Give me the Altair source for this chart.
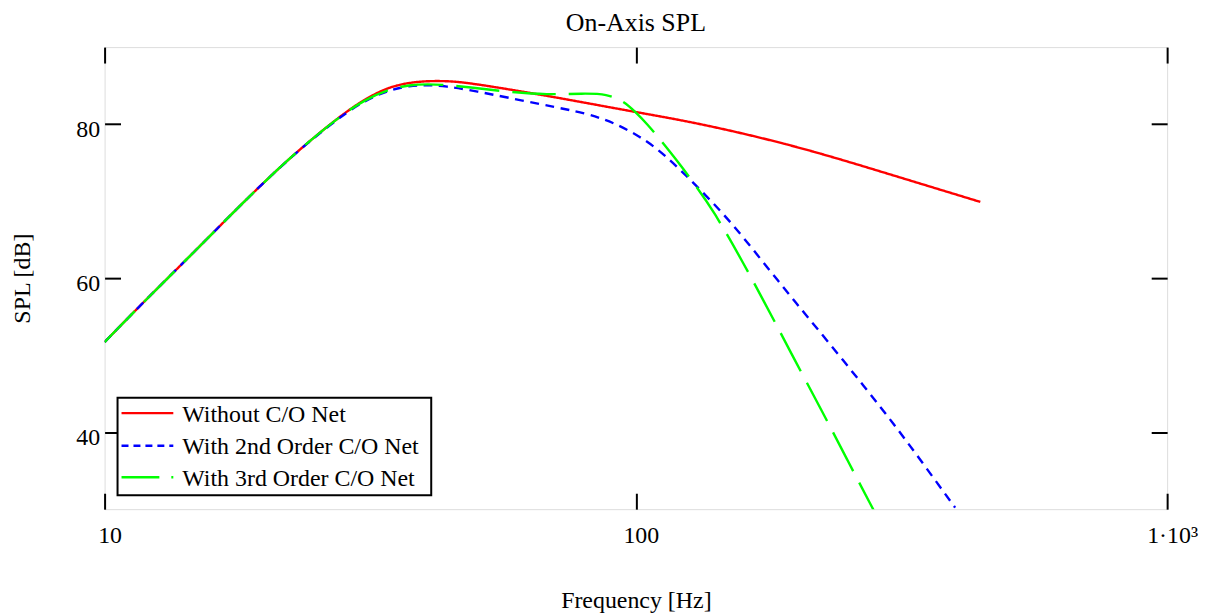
import altair as alt
import pandas as pd

# ---------------- data ----------------
series_names = ["Without C/O Net", "With 2nd Order C/O Net", "With 3rd Order C/O Net"]
series_colors = ["#ff0000", "#0000ff", "#00ff00"]
series_dashes = [[1, 0], [9, 6.5], [43.5, 13]]
legend_dashes = [[1, 0], [7, 5], [38, 12, 2, 100]]

red_freq = [10, 11.8, 14.7, 18.2, 22.5, 27.9, 31, 34.2, 37.5, 40.6, 44, 48.3,
            68.1, 99, 130, 200, 300, 445]
red_spl = [51.7, 56.8, 63.3, 69.8, 75.9, 81.2, 83.3, 84.8, 85.4, 85.6, 85.6, 85.4,
           83.7, 81.6, 80.2, 77.2, 73.5, 69.9]

blue_freq = [10, 11.8, 14.7, 18.2, 22.5, 27.9, 31, 34.2, 37.5, 40.6, 44, 48.3,
             68.1, 80.9, 90.8, 101.9, 112.7, 130.1, 150.2, 173,
             200, 231, 270, 308, 350, 399]
blue_spl = [51.7, 56.8, 63.3, 69.8, 75.9, 81.1, 83.1, 84.4, 85.0, 85.1, 84.9, 84.5,
            82.4, 81.4, 80.2, 78.4, 76.2, 72.0, 67.5, 62.2,
            56.8, 51.6, 45.8, 40.8, 35.6, 30.2]

green_freq = [10, 11.8, 14.7, 18.2, 22.5, 27.9, 31, 34.2, 37.5, 40.6, 44, 48.3,
              57.3, 68.1, 79.8, 88.3, 94.8, 99.7, 104.8, 112, 119.4, 130,
              139.8, 158.5, 183.7, 200, 223.1, 250, 280.6]
green_spl = [51.7, 56.8, 63.3, 69.8, 75.9, 81.2, 83.2, 84.5, 85.1, 85.2, 85.1, 84.8,
             84.2, 83.8, 84.0, 83.9, 83.0, 81.6, 80.1, 77.7, 75.3, 71.9,
             68.8, 62.3, 54.0, 49.1, 43.0, 36.4, 29.8]

x_ticks = [10, 100, 1000]
y_ticks = [40, 60, 80]

# ---------------- chart ----------------
FONT = "Liberation Serif"
FS = 24
W, H = 1067, 464

all_freq = [red_freq, blue_freq, green_freq]
all_spl = [red_spl, blue_spl, green_spl]

x_scale = alt.Scale(type="log", domain=[10, 1000], nice=False)
y_scale = alt.Scale(domain=[30, 90], nice=False, zero=False)

common_axis = dict(grid=False, domain=False, tickColor="black", tickWidth=2,
                   labelFont=FONT, labelFontSize=FS, labelColor="black",
                   titleFont=FONT, titleFontSize=FS, titleColor="black",
                   titleFontWeight="normal", offset=-16, tickSize=16)

x_bottom = alt.Axis(orient="bottom", values=x_ticks, labelFlush=False,
                    labelPadding=14, labelOffset=5, labelOverlap=False,
                    labelExpr="datum.value >= 1000 ? '1·10³' : format(datum.value, 'd')",
                    title="Frequency [Hz]", titlePadding=42, **common_axis)
y_left = alt.Axis(orient="left", values=y_ticks, labelPadding=5, labelOffset=5,
                  title="SPL [dB]", titlePadding=41, **common_axis)
x_top = alt.Axis(orient="top", values=x_ticks, labels=False, title=None, **common_axis)
y_right = alt.Axis(orient="right", values=y_ticks, labels=False, title=None, **common_axis)

layers = []
for i, (name, fs, ss, col, dash) in enumerate(zip(series_names, all_freq, all_spl,
                                                     series_colors, series_dashes)):
    d = pd.DataFrame({"freq": fs, "spl": ss, "series": name})
    if i == 0:
        xa, ya = x_bottom, y_left
    else:
        xa, ya = None, None
    layers.append(
        alt.Chart(d).mark_line(color=col, strokeWidth=2.4, strokeDash=dash,
                               interpolate="basis", clip=True).encode(
            x=alt.X("freq:Q", scale=x_scale, axis=xa),
            y=alt.Y("spl:Q", scale=y_scale, axis=ya),
        )
    )

# invisible layer that carries the top / right tick axes
frame = pd.DataFrame({"freq": [10, 1000], "spl": [30, 90]})
layers.append(
    alt.Chart(frame).mark_point(opacity=0).encode(
        x=alt.X("freq:Q", scale=x_scale, axis=x_top),
        y=alt.Y("spl:Q", scale=y_scale, axis=y_right),
    )
)

# legend box
one = pd.DataFrame({"k": [0]})
layers.append(
    alt.Chart(one).mark_rect(fill="white", stroke="black", strokeWidth=2).encode(
        x=alt.value(13), x2=alt.value(328), y=alt.value(352), y2=alt.value(450)
    )
)
row_y = [367.6, 400.3, 432]
text_y = [376, 408.3, 440.3]
for name, col, dash, ry, ty in zip(series_names, series_colors, legend_dashes, row_y, text_y):
    layers.append(
        alt.Chart(one).mark_rule(color=col, strokeWidth=2.4, strokeDash=dash).encode(
            x=alt.value(17), x2=alt.value(69), y=alt.value(ry)
        )
    )
    layers.append(
        alt.Chart(one).mark_text(align="left", baseline="alphabetic", font=FONT,
                                 fontSize=FS, color="black").encode(
            x=alt.value(78), y=alt.value(ty), text=alt.value(name)
        )
    )

chart = (
    alt.layer(*layers)
    .resolve_axis(x="independent", y="independent")
    .properties(
        width=W, height=H,
        title=alt.TitleParams("On-Axis SPL", font=FONT, fontSize=26,
                              fontWeight="normal", color="black", offset=8,
                              anchor="middle"),
        padding={"left": 97, "top": 38, "right": 32, "bottom": 104},
        autosize=alt.AutoSizeParams(type="none"),
    )
    .configure_view(stroke="black", strokeWidth=2)
    .configure(background="white")
)

chart.save("out.html", embed_options={"renderer": "svg", "actions": False})
